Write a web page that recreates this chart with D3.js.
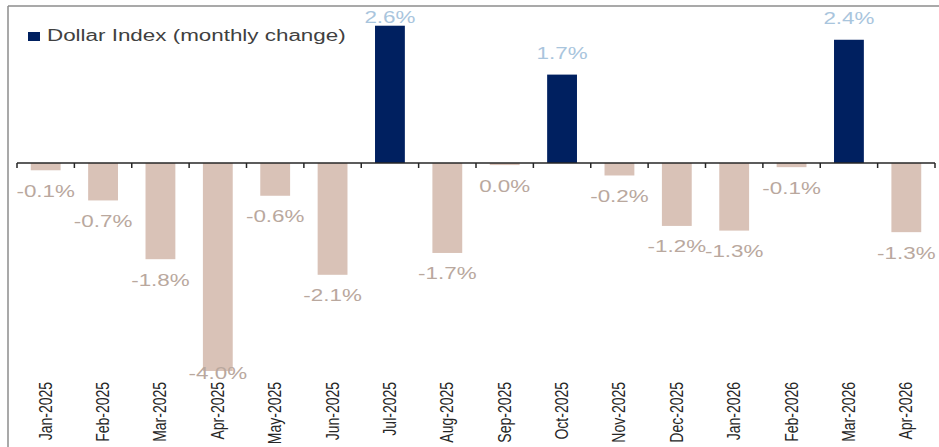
<!DOCTYPE html>
<html>
<head>
<meta charset="utf-8">
<script src="https://cdn.jsdelivr.net/npm/d3@7"></script>
<style>
  body { margin: 0; background: #fff; }
  svg { display: block; font-family: Arial, "Liberation Sans", sans-serif; }
</style>
</head>
<body>
<div id="chart"></div>
<script>
const months = [
  "Jan-2025", "Feb-2025", "Mar-2025", "Apr-2025", "May-2025", "Jun-2025",
  "Jul-2025", "Aug-2025", "Sep-2025", "Oct-2025", "Nov-2025", "Dec-2025",
  "Jan-2026", "Feb-2026", "Mar-2026", "Apr-2026"
];
const changes = [
  -0.14, -0.72, -1.85, -4.0, -0.63, -2.15,
  2.64, -1.73, -0.04, 1.7, -0.24, -1.21,
  -1.3, -0.08, 2.37, -1.33
];
const legendLabel = "Dollar Index (monthly change)";

const drawChart = () => {
  const width = 939;
  const height = 447;
  const stretch = 1.4; // text in the source looks horizontally stretched

  const data = months.map((m, i) => ({ month: m, value: changes[i] }));

  const svg = d3
    .select("#chart")
    .append("svg")
    .attr("width", width)
    .attr("height", height);

  const x = d3
    .scaleBand()
    .domain(months)
    .range([17, 935])
    .paddingInner(0.48)
    .paddingOuter(0.24);

  const y = d3.scaleLinear().domain([-4.5, 3]).range([397, 7]);

  // frame (top + left only)
  svg.append("line")
    .attr("x1", 8).attr("x2", width).attr("y1", 6).attr("y2", 6)
    .attr("stroke", "#8c8c8c").attr("stroke-width", 1.5);
  svg.append("line")
    .attr("x1", 8).attr("x2", 8).attr("y1", 6).attr("y2", height)
    .attr("stroke", "#8c8c8c").attr("stroke-width", 1.5);

  // bars
  svg.selectAll("rect.bar")
    .data(data)
    .enter()
    .append("rect")
    .attr("class", "bar")
    .attr("x", (d) => x(d.month))
    .attr("width", x.bandwidth())
    .attr("y", (d) => y(Math.max(0, d.value)))
    .attr("height", (d) => Math.abs(y(d.value) - y(0)))
    .attr("fill", (d) => (d.value > 0 ? "#002060" : "#d9c2b7"));

  // zero axis with boundary ticks
  const gap = (x.step() - x.bandwidth()) / 2;
  const bounds = months.map((m) => x(m) - gap);
  bounds.push(x(months[months.length - 1]) + x.bandwidth() + gap);

  svg.append("line")
    .attr("x1", bounds[0]).attr("x2", bounds[bounds.length - 1])
    .attr("y1", y(0)).attr("y2", y(0))
    .attr("stroke", "#262626").attr("stroke-width", 1.5);

  svg.selectAll("line.tick")
    .data(bounds)
    .enter()
    .append("line")
    .attr("class", "tick")
    .attr("x1", (d) => d).attr("x2", (d) => d)
    .attr("y1", y(0)).attr("y2", y(0) + 5)
    .attr("stroke", "#262626").attr("stroke-width", 1.5);

  // value labels
  const fmt = (v) => (Math.round(v * 10) / 10).toFixed(1) + "%";
  svg.selectAll("text.val")
    .data(data)
    .enter()
    .append("text")
    .attr("class", "val")
    .attr("transform", (d) => {
      const cx = x(d.month) + x.bandwidth() / 2;
      let cy;
      if (d.value > 0) {
        cy = Math.max(17, y(d.value) - 21);
      } else {
        cy = Math.min(373, y(d.value) + 21);
      }
      return `translate(${cx},${cy + 5.5}) scale(${stretch},1)`;
    })
    .attr("text-anchor", "middle")
    .attr("font-size", 16)
    .attr("fill", (d) => (d.value > 0 ? "#a9c5dd" : "#b9a89e"))
    .text((d) => fmt(d.value));

  // month labels, rotated
  svg.selectAll("text.month")
    .data(months)
    .enter()
    .append("text")
    .attr("class", "month")
    .attr("transform", (d) =>
      `translate(${x(d) + x.bandwidth() / 2 + 6},382) scale(1.25,1) rotate(-90)`)
    .attr("text-anchor", "end")
    .attr("font-size", 14)
    .attr("fill", "#262626")
    .text((d) => d);

  // legend
  svg.append("rect")
    .attr("x", 28).attr("y", 32).attr("width", 12).attr("height", 9)
    .attr("fill", "#002060");
  svg.append("text")
    .attr("transform", `translate(47,41) scale(${stretch},1)`)
    .attr("font-size", 16)
    .attr("fill", "#404040")
    .text(legendLabel);
};

drawChart();
</script>
</body>
</html>
